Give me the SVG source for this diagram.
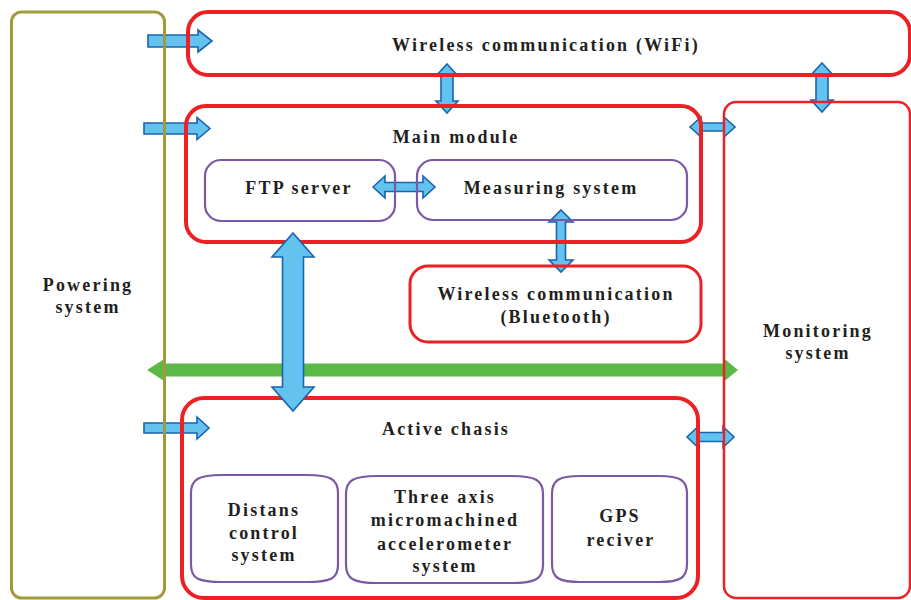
<svg xmlns="http://www.w3.org/2000/svg" width="911" height="600" viewBox="0 0 911 600">
<defs>
<style>
.t{font-family:"Liberation Serif","Times New Roman",serif;font-weight:bold;font-size:18px;letter-spacing:2.2px;fill:#231F20;text-anchor:middle}
.red{fill:none;stroke:#ED2024}
.pur{fill:none;stroke:#7B59A5;stroke-width:2.2}
.blue{fill:#63C3EE;stroke:#1A63AE;stroke-width:1.6;stroke-linejoin:miter}
.green{fill:#5DB947;stroke:none}
</style>
</defs>
<rect width="911" height="600" fill="#fff"/>
<g id="connectors">
<polygon class="green" points="147,370 165,358.5 165,363.5 724,363.5 724,358.5 738,370 724,381.5 724,376.5 165,376.5 165,381.5"/>
<polygon class="blue" points="148,35 198,35 198,30 212,41 198,52 198,47 148,47"/>
<polygon class="blue" points="144,123 197,123 197,117.5 210,128.5 197,139.5 197,134 144,134"/>
<polygon class="blue" points="144,423 197,423 197,417 209,428 197,439 197,433 144,433"/>
<polygon class="blue" points="447,64 458,76 453,76 453,101 458,101 447,113 436,101 441,101 441,76 436,76"/>
<polygon class="blue" points="822,63 833,75 828,75 828,100 833,100 822,112 811,100 816,100 816,75 811,75"/>
<polygon class="blue" points="690,127 701,117 701,123 724,123 724,117 735,127 724,137 724,131 701,131 701,137"/>
<polygon class="blue" points="373,187 385,176 385,182.5 423,182.5 423,176 435,187 423,198 423,191.5 385,191.5 385,198"/>
<polygon class="blue" points="561,210 573,222 565.5,222 565.5,260 573,260 561,272 549,260 556.5,260 556.5,222 549,222"/>
<polygon class="blue" points="687,437 698,426.5 698,432.5 723,432.5 723,426.5 734,437 723,447.5 723,441.5 698,441.5 698,447.5"/>
</g>
<g id="powering">
<rect x="11.5" y="12" width="153" height="586" rx="10" fill="none" stroke="#A39A3B" stroke-width="3"/>
<text class="t" x="88" y="291">Powering</text>
<text class="t" x="88" y="313">system</text>
</g>
<g id="wifi">
<rect x="188" y="12" width="722" height="63" rx="20" class="red" stroke-width="4"/>
<text class="t" x="546" y="51">Wireless communication (WiFi)</text>
</g>
<g id="main-module">
<rect x="186" y="106" width="515" height="136" rx="20" class="red" stroke-width="4"/>
<text class="t" x="456" y="143">Main module</text>
</g>
<g id="ftp">
<rect x="205" y="160" width="190" height="61" rx="16" class="pur"/>
<text class="t" x="299" y="194">FTP server</text>
</g>
<g id="measuring">
<rect x="417" y="160" width="270" height="60" rx="16" class="pur"/>
<text class="t" x="551" y="194">Measuring system</text>
</g>
<g id="monitoring">
<rect x="724" y="102" width="186" height="496" rx="12" class="red" stroke-width="2.5"/>
<text class="t" x="818" y="337">Monitoring</text>
<text class="t" x="818" y="359">system</text>
</g>
<g id="bluetooth">
<rect x="410" y="266" width="291" height="76" rx="18" class="red" stroke-width="3"/>
<text class="t" x="556" y="300">Wireless communication</text>
<text class="t" x="556" y="323">(Bluetooth)</text>
</g>
<g id="active-chasis">
<rect x="182" y="398" width="516" height="200" rx="22" class="red" stroke-width="4"/>
<text class="t" x="446" y="435">Active chasis</text>
</g>
<g id="distans">
<path class="pur" d="M191,493 C191,479 199,475 222,475 L307,475 C330,475 338,479 338,493 L338,565 C338,579 330,582 307,582 L222,582 C199,582 191,579 191,565 Z"/>
<text class="t" x="264" y="516">Distans</text>
<text class="t" x="264" y="539">control</text>
<text class="t" x="264" y="561">system</text>
</g>
<g id="accelerometer">
<path class="pur" d="M346,494 C346,480 354,476 377,476 L512,476 C535,476 543,480 543,494 L543,565 C543,579 535,583 512,583 L377,583 C354,583 346,579 346,565 Z"/>
<text class="t" x="445" y="503">Three axis</text>
<text class="t" x="445" y="526">micromachined</text>
<text class="t" x="445" y="550">accelerometer</text>
<text class="t" x="445" y="572">system</text>
</g>
<g id="gps">
<path class="pur" d="M552,494 C552,480 559,476 580,476 L659,476 C680,476 687,480 687,494 L687,564 C687,578 680,582 659,582 L580,582 C559,582 552,578 552,564 Z"/>
<text class="t" x="620" y="522">GPS</text>
<text class="t" x="621" y="546">reciver</text>
</g>
<g id="connector-main-chasis">
<polygon class="blue" points="293,233 314,257 303.5,257 303.5,387 314,387 293,411 272,387 282.5,387 282.5,257 272,257"/>
</g>
</svg>
